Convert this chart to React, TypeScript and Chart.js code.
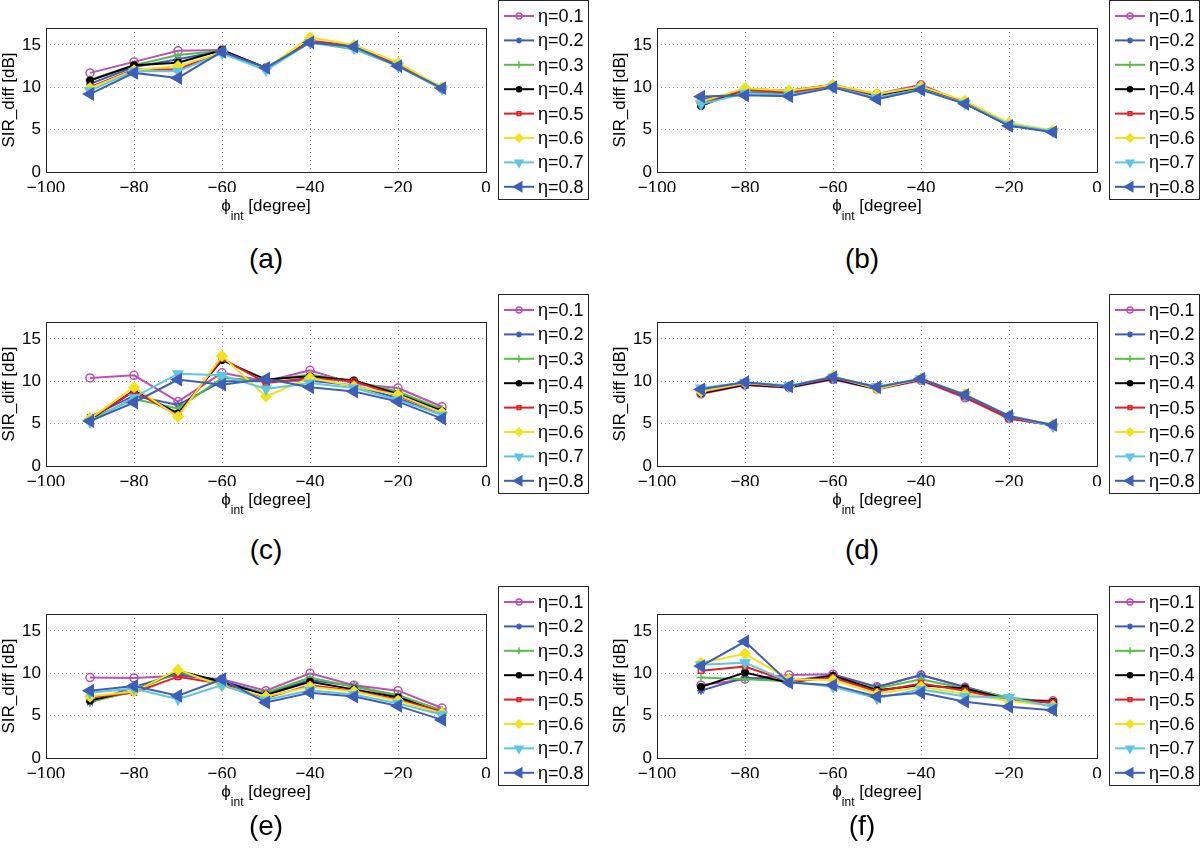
import React, { useEffect, useRef } from 'react';
import { Chart, registerables } from 'chart.js';
import { drawPoint } from 'chart.js/helpers';

Chart.register(...registerables);

const FONT = '"Liberation Sans", Arial, Helvetica, sans-serif';

// ---------- data ----------
const xAngles = [-90, -80, -70, -60, -50, -40, -30, -20, -10];
const etaLabels = ['η=0.1', 'η=0.2', 'η=0.3', 'η=0.4', 'η=0.5', 'η=0.6', 'η=0.7', 'η=0.8'];
const panelLetters = ['(a)', '(b)', '(c)', '(d)', '(e)', '(f)'];

const seriesA = [
  [11.7, 13.0, 14.3, 14.4, 12.3, 15.3, 14.8, 12.6, 9.9],
  [10.4, 12.4, 13.3, 14.3, 12.3, 15.4, 14.8, 12.6, 9.9],
  [10.9, 12.6, 13.8, 14.3, 12.2, 15.3, 14.5, 12.5, 9.8],
  [10.8, 12.6, 12.9, 14.4, 12.3, 15.4, 14.8, 12.6, 9.9],
  [10.0, 12.1, 12.1, 14.2, 12.2, 15.5, 14.9, 12.7, 9.8],
  [9.9, 12.0, 12.5, 14.1, 12.2, 15.9, 15.0, 12.9, 10.0],
  [9.6, 11.9, 11.9, 14.0, 12.0, 15.3, 14.6, 12.5, 9.8],
  [9.2, 11.7, 11.1, 14.2, 12.3, 15.3, 14.8, 12.5, 9.9],
];
const seriesB = [
  [8.3, 9.6, 9.4, 10.2, 9.2, 10.3, 8.2, 5.6, 4.8],
  [8.6, 9.4, 9.2, 10.1, 8.9, 10.0, 8.1, 5.5, 4.8],
  [8.1, 9.6, 9.4, 10.2, 9.0, 10.0, 8.2, 5.6, 4.8],
  [7.8, 9.8, 9.6, 10.3, 9.0, 10.0, 8.1, 5.5, 4.8],
  [8.2, 9.7, 9.4, 10.2, 9.1, 10.2, 8.2, 5.6, 4.8],
  [8.3, 9.9, 9.6, 10.3, 9.2, 10.1, 8.4, 5.8, 4.9],
  [8.0, 9.3, 9.1, 10.0, 8.8, 9.8, 8.1, 5.6, 4.8],
  [8.9, 9.05, 8.95, 10.0, 8.6, 9.7, 8.05, 5.45, 4.7],
];
const seriesC = [
  [10.4, 10.7, 7.6, 11.0, 10.0, 11.3, 9.7, 9.2, 7.0],
  [5.8, 8.3, 7.2, 10.0, 10.0, 10.1, 9.5, 8.0, 6.0],
  [5.5, 7.9, 6.8, 10.4, 10.1, 10.8, 10.0, 8.8, 6.7],
  [5.5, 8.9, 6.2, 12.5, 10.2, 10.6, 10.1, 8.5, 6.5],
  [5.6, 8.8, 6.0, 12.7, 9.8, 10.4, 10.0, 8.3, 6.3],
  [5.6, 9.3, 5.8, 13.0, 8.2, 10.4, 9.4, 8.4, 6.3],
  [5.2, 8.1, 10.9, 10.7, 9.1, 9.8, 9.2, 7.8, 6.0],
  [5.3, 7.5, 10.2, 9.6, 10.3, 9.3, 8.8, 7.6, 5.6],
];
const seriesD = [
  [8.5, 9.55, 9.25, 10.2, 9.05, 10.1, 8.05, 5.6, 4.8],
  [8.8, 9.7, 9.4, 10.4, 9.2, 10.2, 8.3, 5.8, 4.8],
  [8.6, 9.7, 9.3, 10.3, 9.2, 10.2, 8.3, 5.8, 4.8],
  [8.6, 9.6, 9.3, 10.3, 9.1, 10.2, 8.2, 5.7, 4.8],
  [8.7, 9.7, 9.4, 10.4, 9.2, 10.2, 8.2, 5.6, 4.8],
  [8.8, 9.8, 9.4, 10.6, 9.1, 10.3, 8.5, 5.9, 4.9],
  [9.2, 9.9, 9.5, 10.5, 9.4, 10.3, 8.4, 5.9, 4.7],
  [9.05, 9.9, 9.4, 10.5, 9.3, 10.3, 8.4, 5.9, 4.85],
];
const seriesE = [
  [9.5, 9.45, 9.7, 9.3, 7.95, 10.0, 8.6, 7.95, 5.9],
  [6.55, 8.4, 9.9, 9.1, 7.6, 9.2, 8.5, 7.3, 5.2],
  [6.65, 7.85, 10.2, 8.8, 7.7, 9.5, 8.4, 7.45, 5.6],
  [6.8, 7.95, 10.3, 9.0, 7.45, 9.0, 8.1, 7.15, 5.35],
  [7.15, 7.7, 9.6, 8.75, 7.1, 8.6, 7.95, 6.9, 5.45],
  [7.25, 7.85, 10.4, 8.5, 7.25, 8.4, 7.85, 6.75, 5.3],
  [7.7, 8.2, 6.95, 8.6, 6.85, 8.0, 7.5, 6.45, 5.1],
  [7.95, 8.5, 7.35, 9.3, 6.55, 7.7, 7.25, 6.15, 4.5],
];
const seriesF = [
  [8.6, 9.3, 9.8, 9.9, 8.4, 9.8, 8.35, 6.9, 6.75],
  [7.95, 9.5, 9.05, 9.8, 8.4, 9.8, 8.4, 7.05, 6.45],
  [9.5, 9.3, 9.05, 9.5, 8.2, 9.3, 8.2, 7.15, 6.55],
  [8.4, 10.1, 8.9, 9.7, 8.0, 8.6, 8.2, 6.9, 6.65],
  [10.3, 10.8, 9.0, 9.5, 7.85, 8.8, 7.95, 6.85, 6.55],
  [11.25, 12.3, 9.3, 9.2, 7.55, 8.4, 7.55, 6.75, 6.15],
  [11.0, 11.25, 9.0, 8.4, 7.05, 8.1, 7.25, 7.15, 6.05],
  [10.85, 13.75, 8.9, 8.6, 7.25, 7.7, 6.65, 6.05, 5.65],
];
const allPanels = [seriesA, seriesB, seriesC, seriesD, seriesE, seriesF];

// ---------- styles ----------
const lineColors = ['#C14EB2', '#3D5DB5', '#56BE45', '#000000', '#E31E25', '#F0E31C', '#5EC6E3', '#3E5FB8'];
const markerStyles = ['circle', 'star', 'cross', 'circle', 'rect', 'rectRot', 'triangle', 'triangle'];
const markerRotations = [0, 0, 0, 0, 0, 0, 180, -90];
const markerRadii = [4, 4, 4.5, 3.2, 3.6, 5, 5.5, 6.5];
const markerFilled = [false, false, false, true, false, true, true, true];

const PLOT_RIGHT = 486;
const PLOT_TOP = 28;
const PLOT_BOTTOM = 172;
const CANVAS_H = 225;
const COL_X = [0, 611];
const COL_W = [600, 589];
const ROW_Y = [0, 294, 586];
const LETTER_POS = [
  [266, 259], [862, 259],
  [266, 550], [862, 550],
  [266, 826], [862, 826],
];

const framePlugin = {
  id: 'matlabFrame',
  afterDraw(chart: any) {
    const { ctx, chartArea: a } = chart;
    ctx.save();
    // axes box
    ctx.strokeStyle = '#262626';
    ctx.lineWidth = 1;
    ctx.setLineDash([]);
    const l = Math.round(a.left) + 0.5;
    const t = Math.round(a.top) + 0.5;
    const r = Math.round(a.right) + 0.5;
    const b = Math.round(a.bottom) + 0.5;
    ctx.strokeRect(l, t, r - l, b - t);

    // x axis label with subscript
    const cx = (a.left + a.right) / 2;
    const baseY = a.bottom + 39;
    const mainFont = `17px ${FONT}`;
    const subFont = `12px ${FONT}`;
    ctx.fillStyle = '#000';
    ctx.textBaseline = 'alphabetic';
    ctx.textAlign = 'left';
    ctx.font = mainFont;
    const wPhi = ctx.measureText('ϕ').width;
    const wRest = ctx.measureText(' [degree]').width;
    ctx.font = subFont;
    const wSub = ctx.measureText('int').width;
    let x0 = cx - (wPhi + wSub + wRest) / 2;
    ctx.font = mainFont;
    ctx.fillText('ϕ', x0, baseY);
    x0 += wPhi;
    ctx.font = subFont;
    ctx.fillText('int', x0, baseY + 9);
    x0 += wSub;
    ctx.font = mainFont;
    ctx.fillText(' [degree]', x0, baseY);

    // legend box
    const lx = 498.5, ly = 0.5, lw = 90, lh = 199;
    ctx.fillStyle = '#fff';
    ctx.fillRect(lx, ly, lw, lh);
    ctx.strokeStyle = '#262626';
    ctx.lineWidth = 1;
    ctx.strokeRect(lx, ly, lw, lh);
    chart.data.datasets.forEach((ds: any, i: number) => {
      const y = 16 + 24.4 * i;
      ctx.strokeStyle = ds.borderColor;
      ctx.lineWidth = 2;
      ctx.beginPath();
      ctx.moveTo(504, y);
      ctx.lineTo(534, y);
      ctx.stroke();
      ctx.fillStyle = markerFilled[i] ? ds.borderColor : 'rgba(0,0,0,0)';
      ctx.strokeStyle = ds.borderColor;
      ctx.lineWidth = 1.5;
      drawPoint(ctx, {
        pointStyle: markerStyles[i] as any,
        rotation: markerRotations[i],
        radius: Math.max(2.5, markerRadii[i] - 1),
        borderWidth: 1.5,
      }, 519, y);
      ctx.fillStyle = '#000';
      ctx.font = `18px ${FONT}`;
      ctx.textBaseline = 'middle';
      ctx.fillText(ds.label, 538, y + 1);
    });
    ctx.restore();
  },
};

function Panel({ idx }: { idx: number }) {
  const ref = useRef<HTMLCanvasElement>(null);
  const col = idx % 2;
  const row = Math.floor(idx / 2);
  const width = COL_W[col];
  useEffect(() => {
    const series = allPanels[idx];
    const datasets = series.map((vals, i) => ({
      label: etaLabels[i],
      data: xAngles.map((x, j) => ({ x, y: vals[j] })),
      borderColor: lineColors[i],
      backgroundColor: lineColors[i],
      borderWidth: 2,
      pointStyle: markerStyles[i],
      pointRotation: markerRotations[i],
      pointRadius: markerRadii[i],
      pointBorderWidth: 1.5,
      pointBorderColor: lineColors[i],
      pointBackgroundColor: markerFilled[i] ? lineColors[i] : 'rgba(0,0,0,0)',
      tension: 0,
      fill: false,
      order: 8 - i,
    }));
    const tickFont = { family: FONT, size: 17 };
    const chart = new Chart(ref.current as HTMLCanvasElement, {
      type: 'line',
      data: { datasets },
      options: {
        animation: false,
        responsive: false,
        devicePixelRatio: 1,
        events: [],
        layout: {
          padding: { left: 0, top: PLOT_TOP, right: width - PLOT_RIGHT, bottom: CANVAS_H - PLOT_BOTTOM - 20 },
        },
        plugins: {
          legend: { display: false },
          tooltip: { enabled: false },
          title: { display: false },
        },
        scales: {
          x: {
            type: 'linear',
            min: -100,
            max: 0,
            ticks: {
              stepSize: 20,
              includeBounds: false,
              padding: 6,
              color: '#000',
              font: tickFont,
              maxRotation: 0,
              autoSkip: false,
              callback: (v: any) => (v < 0 ? '−' + Math.abs(v) : String(v)),
            },
            grid: { color: '#9a9a9a', lineWidth: 1, drawTicks: false },
            border: { display: false, dash: [1, 3] },
            afterFit: (s: any) => { s.height = 20; },
          },
          y: {
            type: 'linear',
            min: 0,
            max: 17,
            ticks: {
              stepSize: 5,
              includeBounds: false,
              padding: 5,
              color: '#000',
              font: tickFont,
            },
            title: {
              display: true,
              text: 'SIR_diff [dB]',
              color: '#000',
              font: { family: FONT, size: 17 },
              padding: { top: -1, bottom: 0 },
            },
            grid: { color: '#9a9a9a', lineWidth: 1, drawTicks: false },
            border: { display: false, dash: [1, 3] },
            afterFit: (s: any) => { s.width = 46; },
          },
        },
      } as any,
      plugins: [framePlugin],
    });
    return () => chart.destroy();
  }, [idx, width]);
  return (
    <canvas
      ref={ref}
      width={width}
      height={CANVAS_H}
      style={{ position: 'absolute', left: COL_X[col], top: ROW_Y[row], width, height: CANVAS_H }}
    />
  );
}

export default function App() {
  return (
    <div style={{ position: 'absolute', left: 0, top: 0, width: 1200, height: 857, background: '#fff', overflow: 'hidden' }}>
      {allPanels.map((_, i) => (
        <Panel key={i} idx={i} />
      ))}
      {panelLetters.map((t, i) => (
        <div
          key={t}
          style={{
            position: 'absolute',
            left: LETTER_POS[i][0] - 30,
            top: LETTER_POS[i][1] - 17,
            width: 60,
            height: 34,
            lineHeight: '34px',
            textAlign: 'center',
            fontFamily: FONT,
            fontSize: 28,
            color: '#000',
          }}
        >
          {t}
        </div>
      ))}
    </div>
  );
}
